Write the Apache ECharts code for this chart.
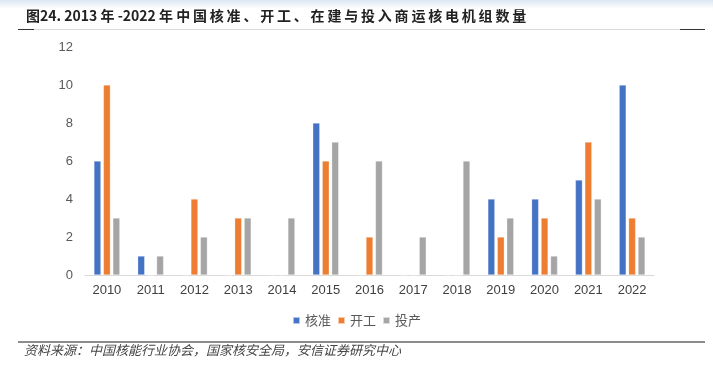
<!DOCTYPE html>
<html><head><meta charset="utf-8">
<script src="https://cdn.jsdelivr.net/npm/echarts@6/dist/echarts.min.js"></script>
<style>html,body{margin:0;padding:0;background:#fff}#c{width:713px;height:371px}</style>
</head><body><div id="c"></div>
<script>
const categories = ['2010','2011','2012','2013','2014','2015','2016','2017','2018','2019','2020','2021','2022'];
const approved = [6,1,0,0,0,8,0,0,0,4,4,5,10];
const started = [10,0,4,3,0,6,2,0,0,2,3,7,3];
const operating = [3,1,2,3,3,7,6,2,6,3,1,4,2];
const yTicks = [0,2,4,6,8,10,12];

const spaced = s => s.split('').join('\u2009');
const chart = echarts.init(document.getElementById('c'));
const font = '"Noto Sans CJK SC", "Liberation Sans", sans-serif';
const barStyle = c => ({color: c, borderColor: 'rgba(255,255,255,0.6)', borderWidth: 0.5});
chart.setOption({
  animation: false,
  textStyle: {fontFamily: font},
  graphic: [
    {type:'rect', shape:{x:0,y:0,width:713,height:9}, style:{fill:{type:'linear',x:0,y:0,x2:0,y2:1,colorStops:[{offset:0,color:'#dbe6f3'},{offset:1,color:'#ffffff'}]}}},
    {type:'text', left:26, top:9, style:{text:'图24. 2013 年 -2022 年 ' + spaced('中国核准、开工、在建与投入商运核电机组数量'), font:'bold 14px "Noto Sans CJK SC", sans-serif', fill:'#222'}},
    {type:'rect', shape:{x:18,y:29,width:16,height:1}, style:{fill:'#333'}},
    {type:'rect', shape:{x:34,y:29,width:646,height:1}, style:{fill:'#d9d9d9'}},
    {type:'rect', shape:{x:680,y:29,width:25,height:1}, style:{fill:'#333'}},
    {type:'rect', shape:{x:18,y:341,width:687,height:2}, style:{fill:'#8c8c8c'}},
    {type:'text', left:24, top:344, style:{text:'资料来源：中国核能行业协会，国家核安全局，安信证券研究中心', font:'italic 13px "Noto Sans CJK SC", sans-serif', fill:'#444'}}
  ],
  legend: {
    data: ['核准','开工','投产'], top: 309, left: 'center',
    itemWidth: 7, itemHeight: 7, itemGap: 6, icon: 'rect',
    textStyle: {fontSize: 13, color: '#595959', fontFamily: font}
  },
  grid: {left: 85, right: 59, top: 47, bottom: 96, containLabel: false},
  xAxis: {
    type: 'category', data: categories,
    axisLine: {lineStyle: {color: '#d9d9d9'}}, axisTick: {show: false},
    axisLabel: {color: '#404040', fontSize: 13, margin: 9, fontFamily: '"Liberation Sans", sans-serif'}
  },
  yAxis: {
    type: 'value', min: 0, max: 12, interval: 2,
    axisLine: {show: false}, axisTick: {show: false}, splitLine: {show: false},
    axisLabel: {color: '#595959', fontSize: 13, margin: 12, fontFamily: '"Liberation Sans", sans-serif',
      formatter: v => yTicks.includes(v) ? String(v) : ''}
  },
  series: [
    {name:'核准', type:'bar', data: approved, barWidth: 7, barGap: '35%', itemStyle: barStyle('#4472c4')},
    {name:'开工', type:'bar', data: started, barWidth: 7, barGap: '35%', itemStyle: barStyle('#ed7d31')},
    {name:'投产', type:'bar', data: operating, barWidth: 7, barGap: '35%', itemStyle: barStyle('#a5a5a5')}
  ]
});
</script></body></html>
